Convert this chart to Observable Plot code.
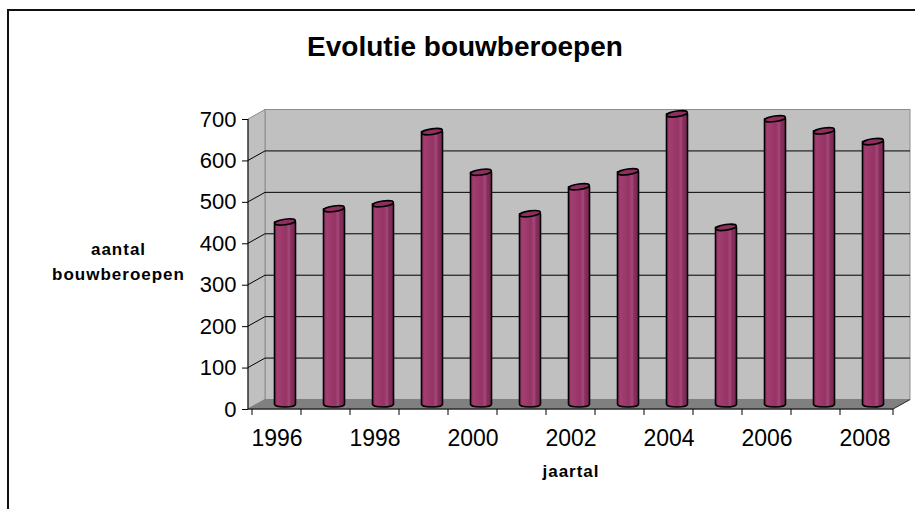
<!DOCTYPE html>
<html>
<head>
<meta charset="utf-8">
<script src="https://cdn.jsdelivr.net/npm/d3@7"></script>
<script src="https://cdn.jsdelivr.net/npm/@observablehq/plot@0.6"></script>
<style>
  body { margin: 0; background: #fff; }
  #wrap { position: relative; width: 915px; height: 509px; overflow: hidden; background: #fff; }
  #border { position: absolute; left: 7px; top: 9px; width: 1000px; height: 700px; border: 2px solid #111; box-sizing: border-box; }
  #wrap svg { position: absolute; left: 0; top: 0; }
</style>
</head>
<body>
<div id="wrap"><div id="border"></div></div>
<script>
// ---- data ----
const years = [1996, 1997, 1998, 1999, 2000, 2001, 2002, 2003, 2004, 2005, 2006, 2007, 2008];
const values = [440, 472, 484, 658, 560, 460, 525, 561, 701, 427, 689, 660, 634];
const yTicks = [0, 100, 200, 300, 400, 500, 600, 700];
const xTickLabels = [1996, 1998, 2000, 2002, 2004, 2006, 2008];
const titleText = "Evolutie bouwberoepen";
const yTitleText = "aantal\nbouwberoepen";
const xTitleText = "jaartal";

const data = years.map((year, i) => ({year, value: values[i]}));

// oblique depth offset of the 3D box
const DX = 17, DY = -9.5;
const NS = "http://www.w3.org/2000/svg";
function el(name, attrs) {
  const e = document.createElementNS(NS, name);
  for (const k in attrs) e.setAttribute(k, attrs[k]);
  return e;
}
function frameOf(scales, dims) {
  const left = dims.marginLeft, right = dims.width - dims.marginRight;
  const bw = scales.x.bandwidth ? scales.x.bandwidth() : (right - left) / years.length;
  return {left, right, bw, y0: scales.y(0), yTop: scales.y(yTicks[yTicks.length - 1])};
}

// walls, floor and gridlines
function walls(index, scales, values, dims) {
  const {left, right, y0, yTop} = frameOf(scales, dims);
  const g = el("g", {});
  g.appendChild(el("rect", {x: left + DX, y: yTop + DY, width: right - left, height: y0 - yTop,
    fill: "#c0c0c0", stroke: "#8c8c8c", "stroke-width": 1}));
  g.appendChild(el("polygon", {points: `${left},${y0} ${left},${yTop} ${left + DX},${yTop + DY} ${left + DX},${y0 + DY}`,
    fill: "#c0c0c0", stroke: "#8c8c8c", "stroke-width": 1}));
  g.appendChild(el("polygon", {points: `${left},${y0} ${right},${y0} ${right + DX},${y0 + DY} ${left + DX},${y0 + DY}`,
    fill: "#808080", stroke: "#808080", "stroke-width": 1}));
  for (const t of yTicks) {
    if (t === 0 || t === yTicks[yTicks.length - 1]) continue;
    const yy = scales.y(t);
    g.appendChild(el("line", {x1: left + DX, x2: right + DX, y1: yy + DY, y2: yy + DY, stroke: "#000", "stroke-width": 1}));
    g.appendChild(el("line", {x1: left, x2: left + DX, y1: yy, y2: yy + DY, stroke: "#000", "stroke-width": 1}));
  }
  return g;
}

// cylinders
function cylinders(index, scales, values, dims) {
  const {bw} = frameOf(scales, dims);
  const g = el("g", {});
  const defs = el("defs", {});
  const grad = el("linearGradient", {id: "cyl", x1: "0", x2: "1", y1: "0", y2: "0"});
  [[0, "#8c2d5d"], [0.15, "#a23f70"], [0.55, "#963365"], [0.7, "#a4497a"], [0.78, "#88305d"], [1, "#782651"]]
    .forEach(([o, c]) => grad.appendChild(el("stop", {offset: o, "stop-color": c})));
  defs.appendChild(grad);
  g.appendChild(defs);
  const r = 10.5, e = 2.8;
  data.forEach(d => {
    const cx = scales.x(d.year) + bw / 2 + DX / 2;
    const base = scales.y(0) + DY / 2;
    const top = scales.y(d.value) + DY / 2;
    g.appendChild(el("path", {
      d: `M${cx - r},${top} L${cx - r},${base} A${r},${e} 0 0 0 ${cx + r},${base} L${cx + r},${top} Z`,
      fill: "url(#cyl)", stroke: "#000", "stroke-width": 1.6, "stroke-linejoin": "round"}));
    g.appendChild(el("ellipse", {cx, cy: top, rx: r, ry: e, transform: `rotate(-8 ${cx} ${top})`,
      fill: "#8e2f5f", stroke: "#000", "stroke-width": 1.6}));
  });
  return g;
}

// axis lines and boundary ticks
function axisLines(index, scales, values, dims) {
  const {left, right, bw, y0, yTop} = frameOf(scales, dims);
  const g = el("g", {stroke: "#000", "stroke-width": 1});
  g.appendChild(el("line", {x1: left, x2: left, y1: y0, y2: yTop}));
  g.appendChild(el("line", {x1: left, x2: right, y1: y0, y2: y0}));
  g.appendChild(el("line", {x1: right, x2: right + DX, y1: y0, y2: y0 + DY, stroke: "#333"}));
  years.forEach(yr => {
    const xx = scales.x(yr);
    g.appendChild(el("line", {x1: xx, x2: xx, y1: y0, y2: y0 + 6}));
  });
  g.appendChild(el("line", {x1: right, x2: right, y1: y0, y2: y0 + 6}));
  return g;
}

const chart = Plot.plot({
  width: 915,
  height: 509,
  marginLeft: 248,
  marginRight: 22,
  marginTop: 119,
  marginBottom: 100,
  style: {fontFamily: "'Liberation Sans', Arial, sans-serif", background: "transparent", color: "#000", overflow: "visible"},
  x: {type: "band", domain: years, padding: 0},
  y: {type: "linear", domain: [0, 700]},
  marks: [
    walls,
    cylinders,
    axisLines,
    Plot.axisY({ticks: yTicks, tickSize: 6, tickPadding: 6, fontSize: 22, tickFormat: d => String(d), label: null, stroke: "#000"}),
    Plot.axisX({ticks: xTickLabels, tickSize: 0, tickPadding: 20, fontSize: 23, tickFormat: d => String(d), label: null}),
    Plot.text([titleText], {text: d => d, frameAnchor: "top", dx: -106, dy: -72, fontSize: 28, fontWeight: "bold", lineAnchor: "middle"}),
    Plot.text([yTitleText], {text: d => d, frameAnchor: "left", dx: -130, dy: -5, fontSize: 17, fontWeight: "bold", textAnchor: "middle", lineAnchor: "middle", lineHeight: 1.5}),
    Plot.text([xTitleText], {text: d => d, frameAnchor: "bottom", dy: 62, fontSize: 17, fontWeight: "bold", lineAnchor: "middle"})
  ]
});
chart.querySelectorAll("text").forEach(t => {
  if (t.textContent.includes("bouwberoepen") && t.textContent.includes("aantal") || t.textContent === "jaartal") {
    t.setAttribute("letter-spacing", "1");
  }
});
document.getElementById("wrap").appendChild(chart);
</script>
</body>
</html>
